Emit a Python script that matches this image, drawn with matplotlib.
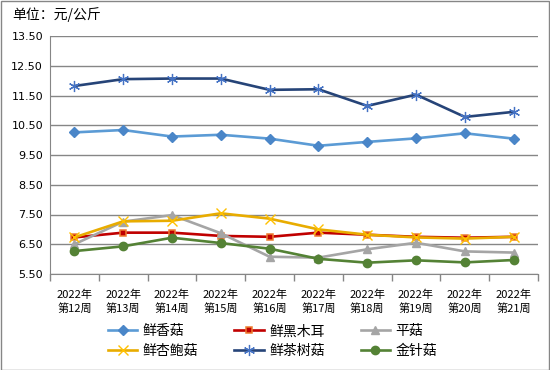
import matplotlib
matplotlib.use("Agg")
import numpy as np
from matplotlib import pyplot as plt
from matplotlib.patches import Rectangle

plt.rcParams['font.family'] = ['Noto Sans CJK SC', 'DejaVu Sans']

weeks = ["2022年\n第12周", "2022年\n第13周", "2022年\n第14周", "2022年\n第15周", "2022年\n第16周",
         "2022年\n第17周", "2022年\n第18周", "2022年\n第19周", "2022年\n第20周", "2022年\n第21周"]

xianggu = [10.26, 10.34, 10.12, 10.18, 10.05, 9.81, 9.94, 10.06, 10.23, 10.05]
heimuer = [6.73, 6.89, 6.89, 6.78, 6.75, 6.89, 6.82, 6.75, 6.72, 6.75]
pinggu = [6.50, 7.26, 7.48, 6.87, 6.08, 6.05, 6.33, 6.55, 6.26, 6.22]
xingbaogu = [6.73, 7.27, 7.29, 7.54, 7.36, 7.00, 6.82, 6.73, 6.69, 6.75]
chashugu = [11.82, 12.05, 12.07, 12.07, 11.69, 11.71, 11.15, 11.53, 10.78, 10.95]
jinzhengu = [6.27, 6.43, 6.72, 6.54, 6.35, 6.01, 5.88, 5.96, 5.89, 5.97]

yticks = [5.5, 6.5, 7.5, 8.5, 9.5, 10.5, 11.5, 12.5, 13.5]

fig = plt.figure(figsize=(5.5, 3.7), dpi=100)
ax = fig.add_axes([50 / 550, 1 - 274 / 370, 488 / 550, 238 / 370])

x = np.arange(len(weeks))
series = [
    ("鲜香菇", xianggu, dict(color="#5B9BD5", marker="D", markersize=5, mfc="#4A86C8", mec="#4A86C8")),
    ("鲜黑木耳", heimuer, dict(color="#C00000", marker="s", markersize=5, mfc="#C00000", mec="#ED7D31", mew=1.1)),
    ("平菇", pinggu, dict(color="#A5A5A5", marker="^", markersize=6, mfc="#A5A5A5", mec="#A5A5A5")),
    ("鲜杏鲍菇", xingbaogu, dict(color="#E8AC00", marker="x", markersize=7, mec="#FFC000", mew=1.0)),
    ("鲜茶树菇", chashugu, dict(color="#264478", marker=(6, 2, 0), markersize=8, mec="#4472C4", mew=0.9)),
    ("金针菇", jinzhengu, dict(color="#548235", marker="o", markersize=6, mfc="#548235", mec="#548235")),
]
for name, vals, style in series:
    ax.plot(x, vals, label=name, linewidth=1.9, **style)

ax.set_xlim(-0.5, len(weeks) - 0.5)
ax.set_ylim(5.5, 13.5)
ax.set_yticks(yticks)
ax.set_yticklabels([f"{v:.2f}" for v in yticks], fontsize=8, family="DejaVu Sans")
ax.yaxis.grid(True, color="#868686", linewidth=1)
ax.set_axisbelow(True)
ax.tick_params(axis="y", length=0, pad=5)

ax.set_xticks(x)
ax.set_xticklabels(weeks, fontsize=8, linespacing=1.35)
ax.set_xticks(np.arange(len(weeks) + 1) - 0.5, minor=True)
ax.tick_params(axis="x", which="major", length=0, pad=11)
ax.tick_params(axis="x", which="minor", length=5, color="#868686", width=1)

for side in ["top", "right"]:
    ax.spines[side].set_visible(False)
ax.spines["left"].set_color("#868686")
ax.spines["bottom"].set_color("#868686")

fig.text(12 / 550, 1 - 15 / 370, "单位：元/公斤", fontsize=10, va="center", ha="left")

# legend filled row by row, like the original
handles, labels = ax.get_legend_handles_labels()
order = [0, 3, 1, 4, 2, 5]
leg = fig.legend([handles[i] for i in order], [labels[i] for i in order],
                 loc="center left", bbox_to_anchor=(108 / 550, 1 - 341 / 370), ncol=3, frameon=False,
                 fontsize=10, handlelength=2.1, columnspacing=2.6, labelspacing=0.4, handletextpad=0.4,
                 borderaxespad=0, borderpad=0)

fig.patches.append(Rectangle((0.5 / 550, 0.5 / 370), 548.5 / 550, 368.5 / 370, transform=fig.transFigure,
                             fill=False, edgecolor="#868686", linewidth=1))

fig.savefig("out.png", dpi=100)
